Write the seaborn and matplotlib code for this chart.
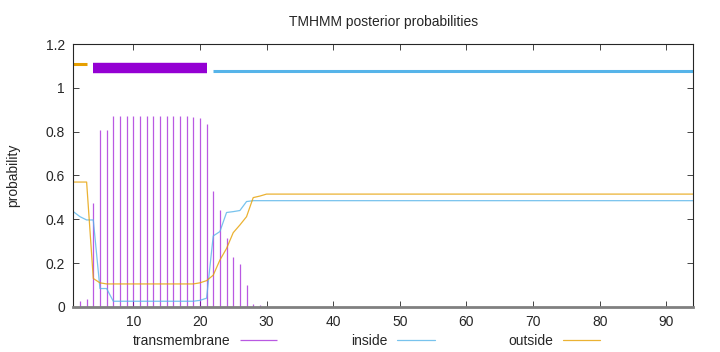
import numpy as np
import pandas as pd
import seaborn as sns
import matplotlib.pyplot as plt
from matplotlib.ticker import FuncFormatter

# posterior probabilities per residue
residues = list(range(1, 95))
transmembrane = [
    0.0, 0.027, 0.038, 0.474, 0.809, 0.809, 0.87, 0.87, 0.87, 0.87,
    0.87, 0.87, 0.87, 0.87, 0.87, 0.87, 0.87, 0.87, 0.868, 0.861,
    0.837, 0.527, 0.443, 0.313, 0.229, 0.196, 0.099, 0.015, 0.01, 0.0,
    0.0, 0.0, 0.0, 0.0, 0.0, 0.0, 0.0, 0.0, 0.0, 0.0,
    0.0, 0.0, 0.0, 0.0, 0.0, 0.0, 0.0, 0.0, 0.0, 0.0,
    0.0, 0.0, 0.0, 0.0, 0.0, 0.0, 0.0, 0.0, 0.0, 0.0,
    0.0, 0.0, 0.0, 0.0, 0.0, 0.0, 0.0, 0.0, 0.0, 0.0,
    0.0, 0.0, 0.0, 0.0, 0.0, 0.0, 0.0, 0.0, 0.0, 0.0,
    0.0, 0.0, 0.0, 0.0, 0.0, 0.0, 0.0, 0.0, 0.0, 0.0,
    0.0, 0.0, 0.0, 0.0,
]
inside = [
    0.435, 0.412, 0.397, 0.397, 0.084, 0.084, 0.026, 0.026, 0.026, 0.026,
    0.026, 0.026, 0.026, 0.026, 0.026, 0.026, 0.026, 0.026, 0.026, 0.03,
    0.04, 0.324, 0.344, 0.431, 0.435, 0.44, 0.481, 0.485, 0.485, 0.485,
    0.485, 0.485, 0.485, 0.485, 0.485, 0.485, 0.485, 0.485, 0.485, 0.485,
    0.485, 0.485, 0.485, 0.485, 0.485, 0.485, 0.485, 0.485, 0.485, 0.485,
    0.485, 0.485, 0.485, 0.485, 0.485, 0.485, 0.485, 0.485, 0.485, 0.485,
    0.485, 0.485, 0.485, 0.485, 0.485, 0.485, 0.485, 0.485, 0.485, 0.485,
    0.485, 0.485, 0.485, 0.485, 0.485, 0.485, 0.485, 0.485, 0.485, 0.485,
    0.485, 0.485, 0.485, 0.485, 0.485, 0.485, 0.485, 0.485, 0.485, 0.485,
    0.485, 0.485, 0.485, 0.485,
]
outside = [
    0.57, 0.57, 0.57, 0.13, 0.11, 0.105, 0.105, 0.105, 0.105, 0.105,
    0.105, 0.105, 0.105, 0.105, 0.105, 0.105, 0.105, 0.105, 0.105, 0.11,
    0.12, 0.145, 0.214, 0.267, 0.339, 0.374, 0.412, 0.499, 0.506, 0.515,
    0.515, 0.515, 0.515, 0.515, 0.515, 0.515, 0.515, 0.515, 0.515, 0.515,
    0.515, 0.515, 0.515, 0.515, 0.515, 0.515, 0.515, 0.515, 0.515, 0.515,
    0.515, 0.515, 0.515, 0.515, 0.515, 0.515, 0.515, 0.515, 0.515, 0.515,
    0.515, 0.515, 0.515, 0.515, 0.515, 0.515, 0.515, 0.515, 0.515, 0.515,
    0.515, 0.515, 0.515, 0.515, 0.515, 0.515, 0.515, 0.515, 0.515, 0.515,
    0.515, 0.515, 0.515, 0.515, 0.515, 0.515, 0.515, 0.515, 0.515, 0.515,
    0.515, 0.515, 0.515, 0.515,
]

# predicted topology drawn above the curves
topo_type = ["outside", "TMhelix", "inside"]
topo_start = [1, 4, 22]
topo_end = [3, 21, 94]
topo_level = [1.11, 1.09, 1.075]

col_tm = "#9400d3"
col_in = "#56b4e9"
col_out = "#e69f00"
topo_color = {"outside": col_out, "TMhelix": col_tm, "inside": col_in}
topo_width = {"outside": 2.2, "TMhelix": 7.5, "inside": 2.2}

df = pd.DataFrame({"residue": residues, "transmembrane": transmembrane,
                   "inside": inside, "outside": outside})

sns.set_style("ticks")
plt.rcParams["font.family"] = ["Liberation Sans", "DejaVu Sans"]
plt.rcParams["font.size"] = 10

fig = plt.figure(figsize=(7.2, 3.52), dpi=100)
ax = fig.add_axes([0.1018, 0.128, 0.8607, 0.747])

ax.vlines(df["residue"], 0, df["transmembrane"], color=col_tm, lw=0.9,
          alpha=0.65, label="transmembrane")
sns.lineplot(data=df, x="residue", y="inside", ax=ax, color=col_in, lw=0.9,
             alpha=0.8, label="inside")
sns.lineplot(data=df, x="residue", y="outside", ax=ax, color=col_out, lw=0.9,
             alpha=0.8, label="outside")

for t, s, e, lv in zip(topo_type, topo_start, topo_end, topo_level):
    ax.hlines(lv, s, e, color=topo_color[t], lw=topo_width[t], capstyle="butt")

ax.set_xlim(1, 94)
ax.set_ylim(0, 1.2)
ax.set_xticks([10, 20, 30, 40, 50, 60, 70, 80, 90])
ax.set_yticks([0, 0.2, 0.4, 0.6, 0.8, 1.0, 1.2])
ax.yaxis.set_major_formatter(FuncFormatter(lambda v, p: "%g" % v))
ax.tick_params(direction="in", top=True, right=True, length=4, width=0.6,
               labelsize=10, pad=6)
for sp in ax.spines.values():
    sp.set_linewidth(0.8)
ax.spines["bottom"].set_color("#808080")
ax.spines["bottom"].set_linewidth(2)

ax.set_xlabel("")
ax.set_ylabel("probability", fontsize=10, labelpad=18)
ax.set_title("TMHMM posterior probabilities", fontsize=10, pad=13)

handles, labels = ax.get_legend_handles_labels()
if ax.legend_:
    ax.legend_.remove()
fig.legend(handles, labels, loc="center", bbox_to_anchor=(0.509, 0.031),
           ncol=3, frameon=False, markerfirst=False, handlelength=2.7,
           handletextpad=0.7, columnspacing=5.3, fontsize=10)

fig.savefig("out.png", dpi=100)
